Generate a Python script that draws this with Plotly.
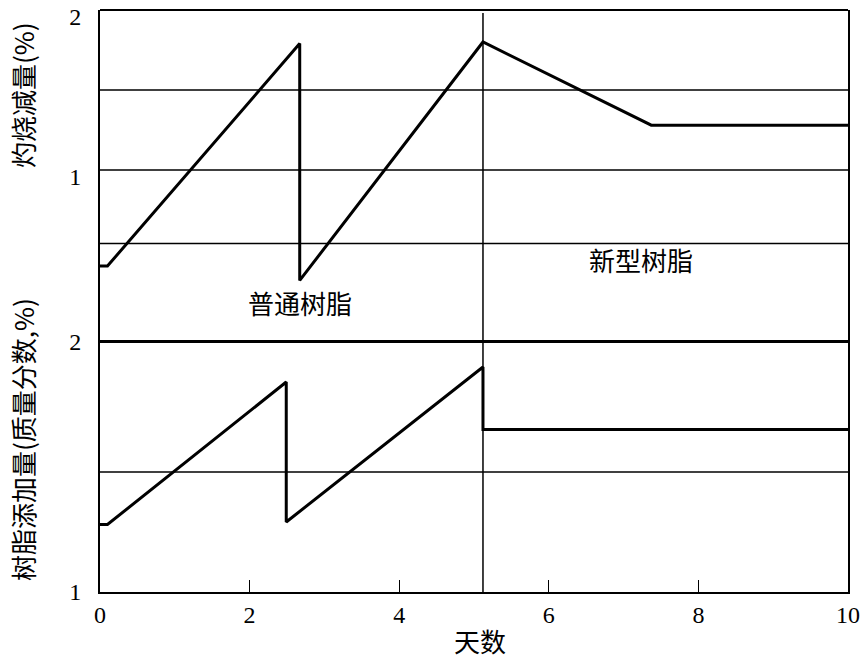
import plotly.graph_objects as go

# 灼烧减量 (top panel)
burn_x = [0, 0.1, 2.67, 2.67, 5.12, 7.37, 10]
burn_y = [0.40, 0.40, 1.79, 0.31, 1.80, 1.28, 1.28]

# 树脂添加量 (bottom panel)
resin_x = [0, 0.1, 2.49, 2.49, 5.12, 5.12, 10]
resin_y = [1.27, 1.27, 1.84, 1.28, 1.90, 1.65, 1.65]

top_grid = [1.5, 1.0, 0.54]
bottom_grid = [2.0, 1.48]
switch_day = 5.12

x_ticks = [0, 2, 4, 6, 8, 10]

NUM_FONT = "Liberation Serif, Times New Roman, serif"
CJK_FONT = "Noto Sans CJK SC, sans-serif"

W, H = 864, 659
L, R, T, B = 100, 16, 10, 67
plot_h = H - T - B
plot_w = W - L - R
split = (592 - 342) / plot_h


def py(pix):
    # pixel row -> paper y
    return (H - B - pix) / plot_h


def px(pix):
    return (pix - L) / plot_w


fig = go.Figure()
fig.add_trace(go.Scatter(x=burn_x, y=burn_y, yaxis="y2", mode="lines",
                         line=dict(color="black", width=3), showlegend=False))
fig.add_trace(go.Scatter(x=resin_x, y=resin_y, yaxis="y", mode="lines",
                         line=dict(color="black", width=3), showlegend=False))

for g in top_grid:
    fig.add_shape(type="line", xref="paper", yref="y2", x0=0, x1=1, y0=g, y1=g,
                  line=dict(color="black", width=1.5))
for g in bottom_grid:
    fig.add_shape(type="line", xref="paper", yref="y", x0=0, x1=1, y0=g, y1=g,
                  line=dict(color="black", width=2 if g == 2.0 else 1.5))
fig.add_shape(type="line", xref="x", yref="paper", x0=switch_day, x1=switch_day, y0=0, y1=0.995,
              line=dict(color="black", width=1.5))
# top frame
fig.add_shape(type="line", xref="paper", yref="paper", x0=0, x1=1, y0=1, y1=1,
              line=dict(color="black", width=2))

fig.add_annotation(x=2.67, y=0.17, yref="y2", text="普通树脂", showarrow=False,
                   font=dict(family=CJK_FONT, size=26, color="black"))
fig.add_annotation(x=7.23, y=0.44, yref="y2", text="新型树脂", showarrow=False,
                   font=dict(family=CJK_FONT, size=26, color="black"))

fig.add_annotation(x=px(22), xref="paper", y=py(95), yref="paper",
                   xanchor="center", yanchor="middle",
                   text="灼烧减量(%)", textangle=-90, showarrow=False,
                   font=dict(family=CJK_FONT, size=26, color="black"))
fig.add_annotation(x=px(22), xref="paper", y=py(440), yref="paper",
                   xanchor="center", yanchor="middle",
                   text="树脂添加量(质量分数,%)", textangle=-90, showarrow=False,
                   font=dict(family=CJK_FONT, size=26, color="black"))
fig.add_annotation(x=px(480), xref="paper", y=py(640), yref="paper",
                   xanchor="center", yanchor="middle",
                   text="天数", showarrow=False,
                   font=dict(family=CJK_FONT, size=26, color="black"))

fig.update_layout(
    width=W, height=H,
    margin=dict(l=L, r=R, t=T, b=B, autoexpand=False),
    plot_bgcolor="white", paper_bgcolor="white",
    font=dict(family=NUM_FONT, size=24, color="black"),
    xaxis=dict(range=[0, 10], tickvals=x_ticks, ticks="inside", ticklen=12, tickwidth=1,
               tickcolor="black", showgrid=False, zeroline=False, showline=True,
               linecolor="black", linewidth=2, mirror=True, ticklabelstandoff=0,
               automargin=False, ticklabeloverflow="allow"),
    yaxis=dict(domain=[0, split], range=[1, 2], tickvals=[1, 2], showgrid=False,
               zeroline=False, showline=True, linecolor="black", linewidth=2, mirror=True,
               ticks="", ticklabelstandoff=12, automargin=False, ticklabeloverflow="allow"),
    yaxis2=dict(domain=[split, 1], range=[2 - 332 / 160, 2], tickvals=[1, 2], showgrid=False,
                zeroline=False, showline=True, linecolor="black", linewidth=2, mirror=True,
                ticks="", ticklabelstandoff=12, ticklabelshift=7,
                automargin=False, ticklabeloverflow="allow"),
)

fig.write_html("out.html", config={"displayModeBar": False},
               post_script="document.body.style.margin='0';")
